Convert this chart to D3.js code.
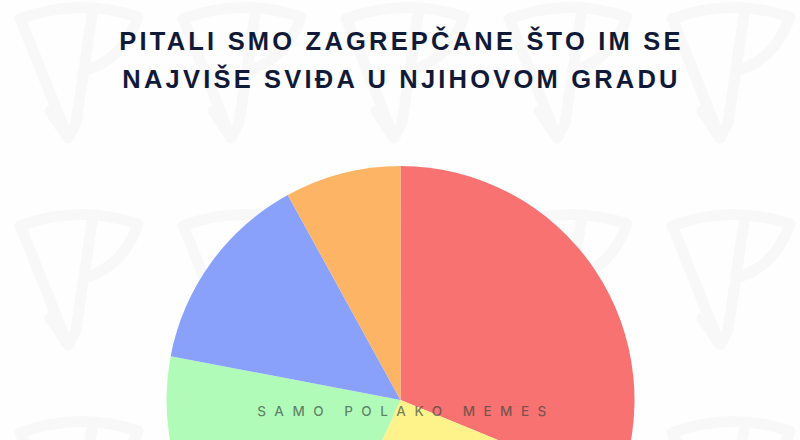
<!DOCTYPE html>
<html><head><meta charset="utf-8">
<script src="https://cdn.jsdelivr.net/npm/d3@7"></script>
<style>html,body{margin:0;padding:0;background:#fff;}svg{display:block;}</style>
</head><body>
<script>
const titleLines = ["PITALI SMO ZAGREPČANE ŠTO IM SE", "NAJVIŠE SVIĐA U NJIHOVOM GRADU"];
const categories = ["A", "B", "C", "D", "E"];
const values = [31.2, 25.6, 21.2, 14.0, 8.0];
const colors = ["#F87272", "#FEF38A", "#B1FBB9", "#8AA1FC", "#FDB464"];
const watermarkText = "SAMO POLAKO MEMES";

const W = 800, H = 440;
const svg = d3.select("body").append("svg").attr("width", W).attr("height", H);
svg.append("rect").attr("width", W).attr("height", H).attr("fill", "#fefefe");

// background logo watermark tiles
const logo = svg.append("g").attr("fill", "none").attr("stroke", "#f8f8f8")
  .attr("stroke-width", 11).attr("stroke-linecap", "round").attr("stroke-linejoin", "round");
const tileX = d3.range(0, 5).map(i => 12 + i * 163);
const tileY = [-7, 200, 407];
tileY.forEach(ty => tileX.forEach(tx => {
  const g = logo.append("g").attr("transform", `translate(${tx},${ty})`);
  g.append("path").attr("d", "M8 26 Q 66 4 126 24 Q 112 64 78 76");
  g.append("path").attr("d", "M10 30 L 56 145 M 38 118 L 56 145 L 64 130 L 80 22");
}));

// title
const title = svg.append("text").attr("text-anchor", "middle")
  .attr("font-family", "'Liberation Sans', Arial, sans-serif").attr("font-weight", 700)
  .attr("font-size", 25.5).attr("fill", "#101a38").attr("letter-spacing", 3.2);
titleLines.forEach((t, i) => title.append("tspan").attr("x", W / 2 + 1.5).attr("y", 50 + i * 38).text(t));

// pie
const cx = 400.5, cy = 400, r = 234;
const pie = d3.pie().sort(null).value(d => d)(values);
const arc = d3.arc().innerRadius(0).outerRadius(r);
svg.append("g").attr("transform", `translate(${cx},${cy})`)
  .selectAll("path").data(pie).join("path")
  .attr("d", arc).attr("fill", (d, i) => colors[i]);

// watermark text
svg.append("text").attr("x", 406).attr("y", 416).attr("text-anchor", "middle")
  .attr("font-family", "Inter, 'Noto Sans', sans-serif").attr("font-size", 13.5)
  .attr("font-weight", 500)
  .attr("letter-spacing", 8.5).attr("fill", "rgba(55,68,58,0.66)")
  .text(watermarkText);
</script>
</body></html>
